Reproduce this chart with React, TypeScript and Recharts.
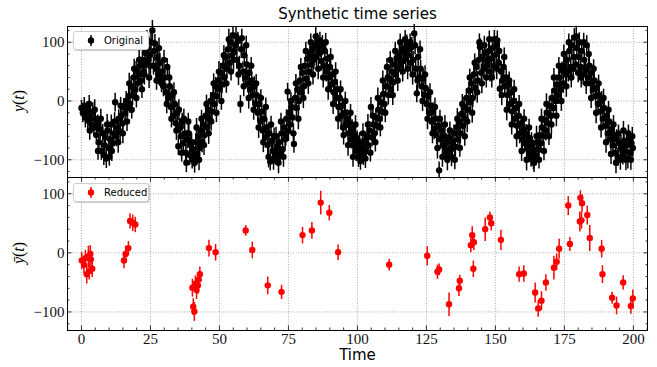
import React from 'react';
import { ScatterChart, Scatter, XAxis, YAxis, ErrorBar, ReferenceLine } from 'recharts';

type Pt = [number, number, number]; // [time, value, error]

// Original series (time, value, error)
const originalA: Pt[] = [
  [0.0, -12, 14], [0.5, -20, 16], [1.0, -8, 15], [1.4, -28, 17], [1.9, -15, 14], [2.3, -33, 16],
  [2.8, -5, 15], [3.2, -24, 18], [3.6, -40, 15], [4.1, -18, 16], [4.5, -45, 15], [5.0, -30, 17],
  [5.4, -58, 16], [5.9, -38, 15], [6.3, -70, 16], [6.8, -48, 17], [7.2, -85, 15], [7.7, -55, 16],
  [8.1, -92, 17], [8.6, -62, 15], [9.0, -98, 16], [9.5, -50, 18], [9.9, -80, 16], [10.4, -65, 15],
  [10.8, -40, 17], [11.3, -72, 16], [11.7, -55, 15], [12.2, -2, 16], [12.6, -60, 17], [13.1, -45, 15],
  [13.5, -30, 16], [14.0, -52, 15], [14.4, -25, 17], [14.9, -38, 16], [15.3, -10, 15], [15.8, -20, 16],
  [16.2, 0, 17], [16.7, -12, 15], [17.1, 8, 16], [17.6, -5, 15], [18.0, 25, 17], [18.5, 10, 16],
  [18.9, 40, 15], [19.4, 20, 17], [19.8, 52, 16], [20.3, 30, 15], [20.7, 45, 17], [21.2, 60, 16],
  [21.6, 35, 15], [22.1, 70, 16], [22.5, 50, 17], [23.0, 82, 15], [23.4, 62, 16], [23.9, 90, 17],
  [24.3, 70, 15], [24.8, 78, 16], [25.2, 100, 16], [25.7, 120, 18], [26.1, 60, 15], [26.6, 98, 16],
  [27.0, 55, 17], [27.5, 75, 15], [27.9, 45, 16], [28.4, 65, 17], [28.8, 38, 15], [29.3, 50, 16],
  [29.7, 25, 17], [30.2, 40, 15], [30.6, 15, 16], [31.1, 58, 15], [31.5, 5, 16], [32.0, 25, 17],
  [32.4, -10, 15], [32.9, 10, 16], [33.3, -25, 16], [33.8, -5, 15], [34.2, -38, 17], [34.7, -20, 16],
  [35.1, -77, 15], [35.6, -45, 16], [36.0, -60, 17], [36.5, -35, 15], [36.9, -72, 16], [37.4, -55, 17],
  [37.8, -88, 15], [38.3, -65, 16], [38.7, -35, 15], [39.2, -92, 17], [39.6, -75, 16], [40.1, -100, 15],
  [40.5, -82, 16], [41.0, -105, 17], [41.4, -70, 15], [41.9, -90, 16], [42.3, -60, 17], [42.8, -80, 15],
  [43.2, -50, 16], [43.7, -70, 17], [44.1, -40, 15], [44.6, -58, 16], [45.0, -25, 17], [45.5, -45, 15],
  [45.9, -15, 16], [46.4, -30, 17], [46.8, 0, 15], [47.3, -18, 16],
];

const originalB: Pt[] = [
  [47.7, 10, 17], [48.2, -5, 15], [48.6, 25, 16], [49.1, 8, 17], [49.5, 35, 15], [50.0, 20, 16],
  [50.4, 48, 17], [50.9, 28, 15], [51.3, 60, 16], [51.8, 40, 17], [52.2, 75, 15], [52.7, 55, 16],
  [53.1, 88, 17], [53.6, 65, 15], [54.0, 100, 16], [54.5, 78, 17], [54.9, 112, 15], [55.4, 85, 16],
  [55.8, 95, 17], [56.3, 70, 15], [56.7, 102, 16], [57.2, 60, 17], [57.6, -5, 15], [58.1, 107, 16],
  [58.5, 50, 17], [59.0, 78, 15], [59.4, 40, 16], [59.9, 62, 17], [60.3, 30, 15], [60.8, 48, 16],
  [61.2, 20, 17], [61.7, 35, 15], [62.1, 10, 16], [62.6, 25, 17], [63.0, -5, 15], [63.5, 10, 16],
  [63.9, -20, 17], [64.4, -5, 15], [64.8, -35, 16], [65.3, -18, 17], [65.7, -50, 15], [66.2, -30, 16],
  [66.6, -62, 17], [67.1, -45, 15], [67.5, -75, 16], [68.0, -55, 17], [68.4, -103, 15], [68.9, -68, 16],
  [69.3, -85, 17], [69.8, -60, 15], [70.2, -92, 16], [70.7, -78, 17], [71.1, -95, 15], [71.6, -70, 16],
  [72.0, -88, 17], [72.5, -55, 15], [72.9, -82, 16], [73.4, -45, 17], [73.8, -65, 15], [74.3, -30, 16],
  [74.7, 16, 15], [75.2, -20, 17], [75.6, -40, 16], [76.1, -10, 15], [76.5, -28, 16], [77.0, -73, 15],
  [77.4, 5, 17], [77.9, -12, 16], [78.3, 20, 15], [78.8, 0, 16], [79.2, 35, 17], [79.7, 15, 15],
  [80.1, 48, 16], [80.6, 25, 17], [81.0, 60, 15], [81.5, 38, 16], [81.9, 72, 17], [82.4, 50, 15],
  [82.8, 80, 16], [83.3, 62, 17], [83.7, 88, 15], [84.2, 70, 16], [84.6, 95, 17], [85.1, 75, 15],
  [85.5, 100, 16], [86.0, 82, 17], [86.4, 103, 15], [86.9, 68, 16], [87.3, 95, 17], [87.8, 60, 15],
  [88.2, 85, 16], [88.7, 50, 17], [89.1, 72, 15], [89.6, 40, 16], [90.0, 58, 17], [90.5, 28, 15],
  [90.9, 45, 16], [91.4, 15, 17], [91.8, 32, 15], [92.3, 5, 16], [92.7, 20, 17], [93.2, -10, 15],
  [93.6, 5, 16], [94.1, -25, 17], [94.5, -8, 15], [95.0, -58, 16],
];

const originalC: Pt[] = [
  [95.4, -20, 17], [95.9, -40, 15], [96.3, -30, 16], [96.8, -55, 17], [97.2, -38, 15], [97.7, -65, 16],
  [98.1, -48, 17], [98.6, -75, 15], [99.0, -58, 16], [99.5, -85, 17], [99.9, -65, 15], [100.4, -96, 16],
  [100.8, -70, 17], [101.3, -88, 15], [101.7, -78, 16], [102.2, -92, 17], [102.6, -68, 15], [103.1, -85, 16],
  [103.5, -60, 17], [104.0, -75, 15], [104.4, -50, 16], [104.9, -10, 17], [105.3, -62, 15], [105.8, -40, 16],
  [106.2, -55, 17], [106.7, -28, 15], [107.1, -42, 16], [107.6, -15, 17], [108.0, -30, 15], [108.5, -2, 16],
  [108.9, -18, 17], [109.4, 12, 15], [109.8, -5, 16], [110.3, 25, 17], [110.7, 58, 15], [111.2, 10, 16],
  [111.6, 38, 17], [112.1, 20, 15], [112.5, 50, 16], [113.0, 32, 17], [113.4, 62, 15], [113.9, 45, 16],
  [114.3, 72, 17], [114.8, 55, 15], [115.2, 80, 16], [115.7, 62, 17], [116.1, 85, 15], [116.6, 68, 16],
  [117.0, 90, 17], [117.5, 72, 15], [117.9, 97, 16], [118.4, 78, 17], [118.8, 88, 15], [119.3, 65, 16],
  [119.7, 92, 17], [120.2, 70, 15], [120.6, 115, 16], [121.1, 55, 17], [121.5, 13, 15], [122.0, 75, 16],
  [122.4, 40, 17], [122.9, 55, 15], [123.3, 25, 16], [123.8, 38, 17], [124.2, 10, 15], [124.7, 22, 16],
  [125.1, -5, 17], [125.6, 8, 15], [126.0, -20, 16], [126.5, -8, 17], [126.9, -35, 15], [127.4, -18, 16],
  [127.8, -48, 17], [128.3, -30, 15], [128.7, -58, 16], [129.2, -42, 17], [129.6, -118, 15], [130.1, -65, 16],
  [130.5, -50, 17], [131.0, -75, 15], [131.4, -60, 16], [131.9, -85, 17], [132.3, -70, 15], [132.8, -90, 16],
  [133.2, -62, 17], [133.7, -82, 15], [134.1, -95, 16], [134.6, -70, 17], [135.0, -55, 15], [135.5, -78, 16],
  [135.9, -45, 17], [136.4, -65, 15], [136.8, -35, 16], [137.3, -55, 17], [137.7, -22, 15], [138.2, -42, 16],
  [138.6, -10, 17], [139.1, -30, 15], [139.5, 5, 16], [140.0, -15, 17], [140.4, 18, 15], [140.9, -2, 16],
  [141.3, 30, 17], [141.8, 5, 15],
];

const originalD: Pt[] = [
  [142.2, 45, 16], [142.7, 22, 17], [143.1, 58, 15], [143.6, 35, 16], [144.0, 70, 17], [144.4, 92, 15],
  [144.9, 48, 16], [145.3, 75, 17], [145.8, 55, 15], [146.2, 82, 16], [146.7, 40, 17], [147.1, 68, 15],
  [147.6, 85, 16], [148.0, 50, 17], [148.5, 72, 15], [148.9, 90, 16], [149.4, 60, 17], [149.8, 78, 15],
  [150.3, 95, 16], [150.7, 103, 17], [151.2, 65, 15], [151.6, 21, 16], [152.1, 50, 17], [152.5, 35, 15],
  [153.0, 58, 16], [153.4, 25, 17], [153.9, 40, 15], [154.3, 10, 16], [154.8, 28, 17], [155.2, -5, 15],
  [155.7, 15, 16], [156.1, -18, 17], [156.6, 0, 15], [157.0, -30, 16], [157.5, -12, 17], [157.9, -42, 15],
  [158.4, -25, 16], [158.8, -55, 17], [159.3, -38, 15], [159.7, -65, 16], [160.2, -48, 17], [160.6, -72, 15],
  [161.1, -55, 16], [161.5, -80, 17], [162.0, -62, 15], [162.4, -88, 16], [162.9, -95, 17], [163.3, -75, 15],
  [163.8, -100, 16], [164.2, -85, 17], [164.7, -93, 15], [165.1, -70, 16], [165.6, -82, 17], [166.0, -58, 15],
  [166.5, -72, 16], [166.9, -45, 17], [167.4, -60, 15], [167.8, -32, 16], [168.3, -50, 17], [168.7, -20, 15],
  [169.2, -38, 16], [169.6, -8, 17], [170.1, -25, 15], [170.5, 5, 16], [171.0, -12, 17], [171.4, 18, 15],
  [171.9, 0, 16], [172.3, 28, 17], [172.8, 10, 15], [173.2, 40, 16], [173.7, 20, 17], [174.1, 52, 15],
  [174.6, 30, 16], [175.0, 60, 17], [175.5, 45, 15], [175.9, 70, 16], [176.4, 50, 17], [176.8, 85, 15],
  [177.3, 58, 16], [177.7, 95, 17], [178.2, 55, 15], [178.6, 108, 16], [179.1, 62, 17], [179.5, 90, 15],
  [180.0, 48, 16], [180.4, 100, 17], [180.9, 58, 15], [181.3, 85, 16], [181.8, 45, 17], [182.2, 70, 15],
  [182.7, 52, 16], [183.1, 95, 17], [183.6, 40, 15], [184.0, 60, 16], [184.5, 30, 17], [184.9, 48, 15],
  [185.4, 20, 16], [185.8, 35, 17], [186.3, 8, 15], [186.7, 22, 16], [187.2, -5, 17], [187.6, 10, 15],
  [188.1, -18, 16], [188.5, 0, 17], [189.0, -30, 15], [189.4, -12, 16], [189.9, -42, 17], [190.3, -25, 15],
  [190.8, -55, 16], [191.2, -35, 17], [191.7, -65, 15], [192.1, -48, 16], [192.6, -75, 17], [193.0, -58, 15],
  [193.5, -88, 16], [193.9, -65, 17], [194.4, -95, 15], [194.8, -72, 16], [195.3, -100, 17], [195.7, -80, 15],
  [196.2, -92, 16], [196.6, -68, 17], [197.1, -85, 15], [197.5, -75, 16], [198.0, -98, 17], [198.4, -65, 15],
  [198.9, -88, 16], [199.3, -72, 17], [199.8, -80, 15],
];

// the looser points that widen the band
const originalE: Pt[] = [
  [3.0, -50, 16], [4.8, -15, 18], [6.0, -85, 15], [7.0, -30, 17], [8.4, -75, 16], [9.3, -40, 18],
  [10.1, -95, 15], [11.0, -85, 17], [12.0, -35, 16], [13.3, -70, 18], [14.2, -8, 15], [15.0, -55, 17],
  [16.5, -35, 16], [17.3, 30, 18], [18.2, -15, 15], [19.1, 55, 17], [19.9, 5, 16], [20.9, 70, 18],
  [21.9, 20, 15], [22.8, 45, 17], [23.7, 105, 16], [24.5, 40, 18], [25.0, 60, 15],
  [26.3, 85, 17], [27.2, 35, 16], [28.1, 90, 18], [29.0, 30, 15], [29.9, 70, 17], [30.9, -5, 16],
  [31.8, 40, 18], [32.6, -30, 15], [33.5, 15, 17], [34.4, -50, 16],
  [35.3, -15, 18], [36.3, -88, 15], [37.1, -30, 17], [38.0, -105, 16], [38.9, -55, 18], [39.9, -70, 15],
  [40.8, -95, 17], [41.7, -45, 16], [42.6, -100, 18], [43.5, -30, 15], [44.4, -75, 17], [45.3, -5, 16],
  [46.1, -55, 18],
  [47.0, -35, 15], [47.9, 30, 17], [48.9, -20, 16], [49.8, 50, 18], [50.7, 0, 15], [51.6, 78, 17],
  [52.5, 30, 16], [53.4, 105, 18], [54.2, 50, 15], [55.1, 70, 17],
  [56.0, 110, 16], [56.9, 45, 18], [57.9, 88, 15], [58.8, 25, 17], [59.7, 95, 16], [60.6, 5, 18],
  [61.5, 60, 15], [62.4, -15, 17], [63.3, 30, 16], [64.2, -45, 18], [65.0, 5, 15],
  [65.9, -70, 17], [66.8, -10, 16], [67.8, -95, 18], [68.7, -40, 15], [69.6, -100, 17], [70.5, -60, 16],
  [71.4, -105, 18], [72.3, -35, 15], [73.2, -95, 17], [74.0, -60, 16], [75.0, -50, 18], [75.9, 0, 15],
  [76.8, -55, 17], [77.7, 30, 16], [78.6, -30, 18], [79.5, 58, 15], [80.4, 5, 17], [81.3, 85, 16],
  [82.2, 30, 18], [83.1, 100, 15], [83.9, 45, 17], [84.9, 110, 16],
  [85.8, 55, 18], [86.7, 90, 15], [87.6, 40, 17], [88.5, 100, 16], [89.4, 20, 18], [90.3, 75, 15],
  [91.2, -5, 17], [92.1, 50, 16], [93.0, -30, 18], [93.9, 20, 15], [94.8, -45, 17], [95.6, 0, 16],
  [96.6, -75, 18], [97.5, -20, 15], [98.4, -95, 17], [99.3, -40, 16], [100.2, -75, 18], [101.1, -102, 15],
  [102.0, -55, 17], [102.9, -98, 16], [103.8, -40, 18], [104.7, -88, 15], [105.6, -25, 17], [106.5, -70, 16],
  [107.4, 5, 18],
  [108.3, -45, 15], [109.2, 35, 17], [110.1, -20, 16], [111.0, 40, 18], [111.9, 70, 15], [112.8, 10, 17],
  [113.7, 85, 16], [114.6, 35, 18], [115.5, 100, 15], [116.4, 50, 17],
  [117.3, 105, 16], [118.2, 55, 18], [119.1, 100, 15], [120.0, 45, 17], [120.9, 95, 16], [121.8, 35, 18],
  [122.7, 88, 15], [123.6, 0, 17], [124.5, 45, 16], [125.4, -30, 18], [126.3, 15, 15], [127.2, -55, 17],
  [128.1, -10, 16],
  [129.0, -80, 18], [129.9, -30, 15], [130.8, -95, 17], [131.7, -40, 16], [132.6, -100, 18], [133.5, -50, 15],
  [134.4, -80, 17], [135.3, -100, 16], [136.2, -30, 18], [137.1, -80, 15], [138.0, -5, 17], [138.9, -60, 16],
  [139.8, -35, 18], [140.7, 40, 15], [141.6, -20, 17], [142.5, 65, 16], [143.4, 15, 18], [144.2, 100, 15],
  [145.1, 30, 17], [146.0, 95, 16], [146.9, 60, 18], [147.8, 105, 15],
  [148.7, 40, 17], [149.6, 105, 16], [150.5, 55, 18], [151.4, 85, 15], [152.3, 10, 17], [153.2, 75, 16],
  [154.1, -15, 18], [155.0, 35, 15], [155.9, -40, 17], [156.8, 20, 16], [157.7, -60, 18], [158.6, -5, 15],
  [159.5, -85, 17], [160.4, -30, 16], [161.3, -100, 18], [162.2, -45, 15], [163.1, -70, 17], [164.0, -105, 16],
  [164.9, -60, 18], [165.8, -100, 15], [166.7, -30, 17], [167.6, -85, 16], [168.5, -5, 18], [169.4, -60, 15],
  [170.3, -40, 17], [171.2, 40, 16], [172.1, -25, 18], [173.0, 60, 15], [173.9, 0, 17], [174.8, 80, 16],
  [175.7, 25, 18], [176.6, 100, 15], [177.5, 40, 17], [178.4, 75, 16],
  [179.3, 110, 18], [180.2, 75, 15], [181.1, 40, 17], [182.0, 100, 16], [182.9, 30, 18], [183.8, 80, 15],
  [184.7, 5, 17], [185.6, 55, 16], [186.5, -20, 18], [187.4, 30, 15], [188.3, -45, 17], [189.2, 5, 16],
  [190.1, -70, 18], [191.0, -15, 15], [191.9, -90, 17], [192.8, -40, 16], [193.7, -105, 18], [194.6, -55, 15],
  [195.5, -75, 17], [196.4, -50, 16], [197.3, -100, 18], [198.2, -55, 15], [199.1, -100, 17], [199.6, -60, 16],
];

// Reduced series, lower panel
const reducedPoints: Pt[] = [
  [0.1, -13, 14], [0.9, -20, 15], [1.4, -9, 14], [1.9, -36, 16], [2.5, -6, 18], [2.8, -31, 14],
  [3.2, -2, 15], [3.4, -11, 15], [3.9, -27, 14],
  [15.4, -13, 13], [16.0, -2, 14], [17.0, 8, 12], [17.6, 54, 13], [18.6, 51, 14], [19.5, 48, 13],
  [40.2, -59, 15], [40.5, -91, 14], [40.9, -99, 16], [41.3, -52, 14], [41.7, -63, 15], [42.2, -55, 14],
  [42.5, -45, 13], [42.9, -36, 13],
  [46.2, 8, 14], [48.6, 1, 14], [59.5, 38, 9], [61.9, 5, 14], [67.5, -55, 15], [72.5, -66, 12],
  [80.1, 30, 14], [83.5, 38, 14], [86.7, 85, 20], [89.8, 68, 13], [93.0, 1, 13],
  [111.5, -20, 10], [125.3, -5, 16], [129.0, -32, 12], [129.6, -28, 10], [133.2, -87, 20],
  [136.8, -60, 13], [137.1, -47, 10], [141.1, 13, 12], [141.6, 30, 15], [142.2, 18, 13], [142.0, -27, 14],
  [146.3, 40, 20], [148.0, 60, 10], [148.5, 50, 12], [152.0, 22, 17], [158.6, -36, 13], [160.3, -35, 14],
  [164.4, -67, 17], [165.5, -94, 14], [166.7, -81, 16], [168.3, -50, 14], [171.2, -25, 20], [172.2, -15, 14],
  [173.1, 7, 17], [176.4, 80, 16], [177.0, 15, 12], [180.6, 53, 17], [180.8, 93, 13], [181.4, 84, 15],
  [181.2, 55, 14], [183.3, 64, 16], [184.2, 25, 22], [188.5, 7, 15], [188.8, -36, 15], [192.3, -76, 10],
  [193.9, -89, 15], [196.3, -50, 12], [199.1, -90, 13], [199.8, -77, 15],
];

const xTicks = [
  -5, 0, 5, 10, 15, 20, 25, 30, 35, 40, 45, 50, 55, 60, 65, 70, 75, 80, 85, 90, 95, 100, 105,
  110, 115, 120, 125, 130, 135, 140, 145, 150, 155, 160, 165, 170, 175, 180, 185, 190, 195, 200, 205,
];
const xMajor = [0, 25, 50, 75, 100, 125, 150, 175, 200];
const yTicks = [-120, -100, -80, -60, -40, -20, 0, 20, 40, 60, 80, 100, 120];
const yMajor = [-100, 0, 100];

const xDomain: [number, number] = [-5.25, 205.3];
const topYDomain: [number, number] = [-129.3, 127.6];
const bottomYDomain: [number, number] = [-130.5, 128.3];

const toRows = (pts: Pt[]) => pts.map(([t, y, err]) => ({ t, y, err }));
const originalData = toRows([...originalA, ...originalB, ...originalC, ...originalD, ...originalE]);
const reducedData = toRows(reducedPoints);

// layout (px)
const PLOT_LEFT = 67;
const PLOT_RIGHT = 648;
const TOP_Y0 = 26;
const SPLIT_Y = 177;
const BOTTOM_Y1 = 330;

const serif = '"Liberation Serif", "DejaVu Serif", serif';
const sans = '"DejaVu Sans", sans-serif';

const fmt = (v: number) => (v < 0 ? `\u2212${Math.abs(v)}` : `${v}`);

const makeXTick = (plotTop: number, plotBottom: number, labels: boolean) => (props: any) => {
  const { x, payload } = props;
  const v = payload.value;
  const major = xMajor.includes(v);
  const len = major ? 4.5 : 2.5;
  return (
    <g>
      <line x1={x} x2={x} y1={plotBottom} y2={plotBottom - len} stroke="#000" strokeWidth={0.8} />
      <line x1={x} x2={x} y1={plotTop} y2={plotTop + len} stroke="#000" strokeWidth={0.8} />
      {labels && major && (
        <text x={x} y={plotBottom + 14} textAnchor="middle" fontFamily={serif} fontSize={15} fill="#111">
          {fmt(v)}
        </text>
      )}
    </g>
  );
};

const YTick = (props: any) => {
  const { y, payload } = props;
  const v = payload.value;
  const major = yMajor.includes(v);
  const len = major ? 4.5 : 2.5;
  return (
    <g>
      <line x1={PLOT_LEFT} x2={PLOT_LEFT + len} y1={y} y2={y} stroke="#000" strokeWidth={0.8} />
      <line x1={PLOT_RIGHT - len} x2={PLOT_RIGHT} y1={y} y2={y} stroke="#000" strokeWidth={0.8} />
      {major && (
        <text x={PLOT_LEFT - 2.5} y={y} dy="0.34em" textAnchor="end" fontFamily={serif} fontSize={15} fill="#111">
          {fmt(v)}
        </text>
      )}
    </g>
  );
};

const gridStyle = { stroke: '#aaaaaa', strokeDasharray: '1 1.6', strokeWidth: 1 };

const dot = (color: string) => (props: any) => <circle cx={props.cx} cy={props.cy} r={3.2} fill={color} />;

const LegendBox = ({ top, color, label }: { top: number; color: string; label: string }) => (
  <div
    style={{
      position: 'absolute',
      left: 73,
      top,
      width: 76,
      height: 19,
      border: '1px solid #cfcfcf',
      borderRadius: 3,
      background: '#fff',
      boxShadow: '1px 1px 1px rgba(0,0,0,0.2)',
      boxSizing: 'border-box',
    }}
  >
    <svg width={20} height={17} style={{ position: 'absolute', left: 7, top: 0 }}>
      <line x1={10} x2={10} y1={3} y2={14} stroke={color} strokeWidth={1.5} />
      <circle cx={10} cy={8.5} r={3.2} fill={color} />
    </svg>
    <span
      style={{
        position: 'absolute',
        left: 30,
        top: 0,
        lineHeight: '17px',
        fontFamily: sans,
        fontSize: 10,
        color: '#000',
        whiteSpace: 'nowrap',
      }}
    >
      {label}
    </span>
  </div>
);

const App: React.FC = () => {
  const topPlotH = SPLIT_Y - TOP_Y0;
  const bottomPlotH = BOTTOM_Y1 - SPLIT_Y;

  return (
    <div style={{ position: 'absolute', left: 0, top: 0, width: 657, height: 367, background: '#fff', overflow: 'hidden' }}>
      {/* title */}
      <div
        style={{
          position: 'absolute', left: PLOT_LEFT, width: PLOT_RIGHT - PLOT_LEFT, top: 5, textAlign: 'center',
          fontFamily: sans, fontSize: 15, lineHeight: '18px', color: '#000',
        }}
      >
        Synthetic time series
      </div>

      {/* upper panel */}
      <div style={{ position: 'absolute', left: 0, top: 0 }}>
        <ScatterChart width={657} height={SPLIT_Y} margin={{ top: TOP_Y0, right: 657 - PLOT_RIGHT, bottom: 0, left: 0 }}>
          <XAxis
            type="number" dataKey="t" domain={xDomain} allowDataOverflow ticks={xTicks} interval={0}
            height={0} axisLine={false} tickLine={false} tick={makeXTick(TOP_Y0, SPLIT_Y, false)}
          />
          <YAxis
            type="number" dataKey="y" domain={topYDomain} allowDataOverflow ticks={yTicks} interval={0}
            width={PLOT_LEFT} axisLine={false} tickLine={false} tick={YTick}
          />
          {xMajor.map((v) => <ReferenceLine key={`gx${v}`} x={v} {...gridStyle} />)}
          {yMajor.map((v) => <ReferenceLine key={`gy${v}`} y={v} {...gridStyle} />)}
          <Scatter data={originalData} fill="#000" shape={dot('#000')} isAnimationActive={false}>
            <ErrorBar dataKey="err" direction="y" width={0} stroke="#000" strokeWidth={1.5} isAnimationActive={false} />
          </Scatter>
        </ScatterChart>
      </div>

      {/* lower panel */}
      <div style={{ position: 'absolute', left: 0, top: SPLIT_Y }}>
        <ScatterChart width={657} height={367 - SPLIT_Y} margin={{ top: 0, right: 657 - PLOT_RIGHT, bottom: 0, left: 0 }}>
          <XAxis
            type="number" dataKey="t" domain={xDomain} allowDataOverflow ticks={xTicks} interval={0}
            height={367 - SPLIT_Y - bottomPlotH} axisLine={false} tickLine={false}
            tick={makeXTick(0, bottomPlotH, true)}
          />
          <YAxis
            type="number" dataKey="y" domain={bottomYDomain} allowDataOverflow ticks={yTicks} interval={0}
            width={PLOT_LEFT} axisLine={false} tickLine={false} tick={YTick}
          />
          {xMajor.map((v) => <ReferenceLine key={`gx${v}`} x={v} {...gridStyle} />)}
          {yMajor.map((v) => <ReferenceLine key={`gy${v}`} y={v} {...gridStyle} />)}
          <Scatter data={reducedData} fill="#ff0000" shape={dot('#ff0000')} isAnimationActive={false}>
            <ErrorBar dataKey="err" direction="y" width={0} stroke="#ff0000" strokeWidth={1.5} isAnimationActive={false} />
          </Scatter>
        </ScatterChart>
      </div>

      {/* frames */}
      <div style={{ position: 'absolute', left: PLOT_LEFT, top: TOP_Y0, width: PLOT_RIGHT - PLOT_LEFT, height: topPlotH + 1, border: '1px solid #000', boxSizing: 'border-box', pointerEvents: 'none' }} />
      <div style={{ position: 'absolute', left: PLOT_LEFT, top: SPLIT_Y, width: PLOT_RIGHT - PLOT_LEFT, height: bottomPlotH + 1, border: '1px solid #000', boxSizing: 'border-box', pointerEvents: 'none' }} />

      <LegendBox top={31} color="#000" label="Original" />
      <LegendBox top={183} color="#ff0000" label="Reduced" />

      {/* axis labels */}
      <div style={{ position: 'absolute', left: 19, top: 101, transform: 'translate(-50%, -50%) rotate(-90deg)', fontFamily: serif, fontSize: 16, whiteSpace: 'nowrap', color: '#000' }}>
        <i>y</i>(<i>t</i>)
      </div>
      <div style={{ position: 'absolute', left: 19, top: 253, transform: 'translate(-50%, -50%) rotate(-90deg)', fontFamily: serif, fontSize: 16, whiteSpace: 'nowrap', color: '#000' }}>
        <i>ȳ</i>(<i>t</i>)
      </div>
      <div style={{ position: 'absolute', left: PLOT_LEFT, width: PLOT_RIGHT - PLOT_LEFT, top: 346, textAlign: 'center', fontFamily: sans, fontSize: 15, lineHeight: '18px', color: '#000' }}>
        Time
      </div>
    </div>
  );
};

export default App;
